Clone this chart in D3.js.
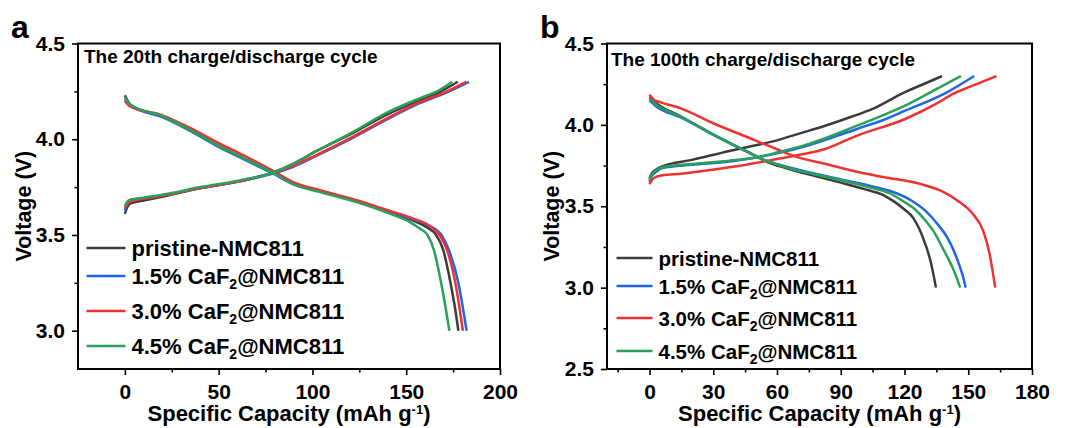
<!DOCTYPE html>
<html>
<head>
<meta charset="utf-8">
<script src="https://cdn.jsdelivr.net/npm/d3@7"></script>
<style>
  body { margin: 0; background: #fff; }
  svg { font-family: 'Liberation Sans', Arial, sans-serif; font-weight: bold; }
</style>
</head>
<body>
<svg id="chart" width="1066" height="428"></svg>
<script>
// legend labels: [text, subscript, text after]
const seriesLabels = [
  ['pristine-NMC811', '', ''],
  ['1.5% CaF', '2', '@NMC811'],
  ['3.0% CaF', '2', '@NMC811'],
  ['4.5% CaF', '2', '@NMC811']
];
const seriesColors = ['#3c3c3c', '#1f66e6', '#ee3131', '#2ba05a'];

// panel a axes
const aTicksX = [0, 50, 100, 150, 200];
const aMinorX = [25, 75, 125, 175];
const aTicksY = [3.0, 3.5, 4.0, 4.5];
const aMinorY = [3.25, 3.75, 4.25];

// panel b axes
const bTicksX = [0, 30, 60, 90, 120, 150, 180];
const bMinorX = [-15, 15, 45, 75, 105, 135, 165];
const bTicksY = [2.5, 3.0, 3.5, 4.0, 4.5];
const bMinorY = [2.75, 3.25, 3.75, 4.25];

// 20th cycle, [capacity mAh/g, voltage V]
const aPristineCharge = [[0,3.61],[1,3.64],[3,3.665],[10,3.68],[20,3.70],[40.5,3.745],[61,3.78],[77,3.82],[89.5,3.87],[101.5,3.935],[122,4.035],[140,4.13],[157.5,4.205],[167.5,4.245],[177.5,4.3]];
const aCaF15Charge = [[0,3.63],[1,3.655],[3,3.675],[10,3.69],[20,3.705],[40.5,3.745],[61,3.78],[77,3.815],[89.5,3.855],[101.5,3.91],[122,4.01],[140,4.105],[157.5,4.19],[170.5,4.24],[183.5,4.3]];
const aCaF30Charge = [[0,3.64],[1,3.655],[3,3.675],[10,3.69],[20,3.705],[40.5,3.745],[61,3.78],[77,3.82],[89.5,3.86],[101.5,3.915],[122,4.015],[140,4.11],[157.5,4.195],[170.5,4.245],[182,4.3]];
const aCaF45Charge = [[0,3.65],[1,3.67],[3,3.685],[10,3.695],[20,3.71],[40.5,3.75],[61,3.785],[77,3.82],[89.5,3.87],[101.5,3.935],[122,4.04],[140,4.14],[157.5,4.215],[167.5,4.255],[174.5,4.3]];

const aPristineDischarge = [[0,4.23],[3,4.18],[20,4.12],[34.5,4.05],[51,3.96],[63.5,3.90],[78,3.83],[91,3.765],[103.5,3.73],[124,3.675],[141.5,3.615],[152.5,3.58],[161,3.54],[166,3.5],[169.8,3.42],[173.6,3.25],[176,3.12],[177.8,3.0]];
const aCaF15Discharge = [[0,4.21],[3,4.175],[20,4.115],[34.5,4.045],[51,3.955],[63.5,3.895],[78,3.825],[91,3.76],[103.5,3.73],[124,3.675],[141.5,3.62],[152.5,3.585],[162,3.55],[168.8,3.5],[172.8,3.42],[177.8,3.25],[180.2,3.12],[182.2,3.0]];
const aCaF30Discharge = [[0,4.20],[3,4.17],[20,4.125],[34.5,4.06],[51,3.975],[63.5,3.915],[78,3.84],[91,3.77],[103.5,3.735],[124,3.68],[141.5,3.625],[152.5,3.59],[162,3.55],[167.8,3.5],[171.8,3.42],[176.2,3.25],[178.4,3.12],[180.2,3.0]];
const aCaF45Discharge = [[0,4.22],[3,4.18],[20,4.12],[34.5,4.05],[51,3.96],[63.5,3.90],[78,3.83],[91,3.76],[103.5,3.725],[124,3.67],[141.5,3.61],[151.5,3.57],[157,3.535],[161.3,3.5],[164.8,3.42],[168.6,3.25],[171,3.12],[173,3.0]];

// 100th cycle
const bPristineCharge = [[0,3.67],[1,3.70],[3,3.725],[6,3.745],[20,3.785],[37.6,3.84],[50,3.875],[60,3.905],[70,3.945],[82.7,3.995],[95,4.05],[105,4.098],[120,4.2],[128,4.245],[137.7,4.3]];
const bCaF15Charge = [[0,3.65],[1,3.685],[3,3.71],[6,3.735],[20,3.755],[37.6,3.775],[50,3.80],[60,3.825],[75,3.875],[97.7,3.975],[110,4.03],[120.3,4.087],[140,4.2],[152.8,4.3]];
const bCaF30Charge = [[0,3.635],[1,3.66],[3,3.68],[6,3.69],[15,3.70],[37.6,3.739],[60,3.79],[70,3.815],[82.7,3.852],[97.7,3.934],[120.3,4.036],[135,4.13],[142.8,4.19],[150,4.23],[163.3,4.3]];
const bCaF45Charge = [[0,3.66],[1,3.695],[3,3.72],[6,3.74],[20,3.76],[37.6,3.78],[50,3.80],[60,3.83],[75,3.883],[97.7,3.995],[110,4.06],[120.3,4.118],[135,4.22],[146.6,4.3]];

const bPristineDischarge = [[0,4.17],[3,4.135],[15,4.05],[30,3.94],[46,3.835],[55,3.775],[64,3.735],[78,3.685],[90,3.645],[104,3.595],[109,3.575],[115,3.53],[120,3.48],[124,3.43],[127,3.36],[130,3.26],[132.5,3.15],[134.8,3.0]];
const bCaF15Discharge = [[0,4.15],[3,4.115],[15,4.045],[30,3.94],[46,3.835],[55,3.78],[64,3.745],[78,3.70],[90,3.665],[104,3.625],[113,3.595],[123.4,3.534],[130,3.47],[135.6,3.39],[140,3.31],[143.2,3.227],[146,3.13],[147.5,3.07],[148.8,3.0]];
const bCaF30Discharge = [[0,4.185],[2,4.155],[5,4.14],[15,4.10],[30,4.01],[45,3.93],[60,3.85],[70,3.80],[83,3.76],[95,3.72],[110,3.68],[128,3.635],[138,3.59],[145,3.534],[152,3.455],[157,3.35],[160,3.21],[161.5,3.1],[162.7,3.0]];
const bCaF45Discharge = [[0,4.16],[3,4.125],[15,4.05],[30,3.94],[46,3.835],[55,3.78],[64,3.74],[78,3.695],[90,3.66],[104,3.615],[113,3.58],[119,3.534],[125,3.48],[130,3.41],[134,3.34],[138.6,3.227],[142,3.14],[144,3.08],[146.2,3.0]];

const panels = [
  {
    letter: 'a', letterX: 11,
    title: 'The 20th charge/discharge cycle', titleX: 84, titleY: 63,
    xDomain: [-25, 200], xRange: [78, 500],
    yDomain: [2.8, 4.5], yRange: [369, 43.5],
    xTicks: aTicksX, xMinor: aMinorX, yTicks: aTicksY, yMinor: aMinorY,
    charge: [aPristineCharge, aCaF15Charge, aCaF30Charge, aCaF45Charge],
    discharge: [aPristineDischarge, aCaF15Discharge, aCaF30Discharge, aCaF45Discharge],
    legendX: 86.5, legendLen: 39, legendFont: 22, legendRows: [248, 276, 311, 346],
    yLabelX: 31
  },
  {
    letter: 'b', letterX: 540,
    title: 'The 100th charge/discharge cycle', titleX: 611, titleY: 66,
    xDomain: [-20, 180], xRange: [607, 1032],
    yDomain: [2.5, 4.5], yRange: [369, 43.5],
    xTicks: bTicksX, xMinor: bMinorX, yTicks: bTicksY, yMinor: bMinorY,
    charge: [bPristineCharge, bCaF15Charge, bCaF30Charge, bCaF45Charge],
    discharge: [bPristineDischarge, bCaF15Discharge, bCaF30Discharge, bCaF45Discharge],
    legendX: 616.5, legendLen: 36, legendFont: 20.5, legendRows: [258, 286, 318, 351],
    yLabelX: 559
  }
];

const svg = d3.select('#chart');

function drawPanel(p) {
  const x = d3.scaleLinear().domain(p.xDomain).range(p.xRange);
  const y = d3.scaleLinear().domain(p.yDomain).range(p.yRange);
  const g = svg.append('g');

  // minor ticks
  g.append('g').
    attr('transform', `translate(0, ${p.yRange[0]})`).
    call(d3.axisBottom(x).tickValues(p.xMinor).tickSize(3.5).tickFormat('').tickSizeOuter(0)).
    call(s => s.select('.domain').remove());
  g.append('g').
    attr('transform', `translate(${p.xRange[0]}, 0)`).
    call(d3.axisLeft(y).tickValues(p.yMinor).tickSize(3.5).tickFormat('').tickSizeOuter(0)).
    call(s => s.select('.domain').remove());

  // major ticks
  const xAxis = g.append('g').
    attr('transform', `translate(0, ${p.yRange[0]})`).
    call(d3.axisBottom(x).tickValues(p.xTicks).tickSize(6).tickPadding(9).tickFormat(d3.format('d')));
  const yAxis = g.append('g').
    attr('transform', `translate(${p.xRange[0]}, 0)`).
    call(d3.axisLeft(y).tickValues(p.yTicks).tickSize(6).tickPadding(7).tickFormat(d3.format('.1f')));
  [xAxis, yAxis].forEach(a => {
    a.select('.domain').remove();
    a.selectAll('text').attr('font-size', 21).attr('font-weight', 'bold').attr('fill', '#000').
      attr('font-family', "'Liberation Sans', Arial, sans-serif");
  });
  g.selectAll('.tick line').attr('stroke', '#000').attr('stroke-width', 1.6);

  // frame
  g.append('rect').
    attr('x', p.xRange[0]).
    attr('y', p.yRange[1]).
    attr('width', p.xRange[1] - p.xRange[0]).
    attr('height', p.yRange[0] - p.yRange[1]).
    attr('fill', 'none').
    attr('stroke', '#000').
    attr('stroke-width', 2);

  // curves
  const line = d3.line().
    x(d => x(d[0])).
    y(d => y(d[1])).
    curve(d3.curveMonotoneX);
  for (let i = 0; i < seriesColors.length; i++) {
    [p.charge[i], p.discharge[i]].forEach(data => {
      g.append('path').
        datum(data).
        attr('d', line).
        attr('fill', 'none').
        attr('stroke', seriesColors[i]).
        attr('stroke-width', 2.5).
        attr('stroke-linejoin', 'round');
    });
  }

  // legend
  seriesLabels.forEach((lab, i) => {
    const ly = p.legendRows[i];
    g.append('line').
      attr('x1', p.legendX).attr('x2', p.legendX + p.legendLen).
      attr('y1', ly).attr('y2', ly).
      attr('stroke', seriesColors[i]).
      attr('stroke-width', 2.7);
    const t = g.append('text').
      attr('x', p.legendX + p.legendLen + 6).
      attr('y', ly + 7.5).
      attr('font-size', p.legendFont);
    t.append('tspan').text(lab[0]);
    if (lab[1]) {
      t.append('tspan').attr('font-size', 14).attr('dy', 5).text(lab[1]);
      t.append('tspan').attr('dy', -5).text(lab[2]);
    }
  });

  // titles
  g.append('text').
    attr('x', p.titleX).attr('y', p.titleY).
    attr('font-size', 19).
    text(p.title);

  g.append('text').
    attr('x', p.letterX).attr('y', 38).
    attr('font-size', 32).
    text(p.letter);

  const xl = g.append('text').
    attr('x', (p.xRange[0] + p.xRange[1]) / 2).
    attr('y', 421).
    attr('text-anchor', 'middle').
    attr('font-size', 22);
  xl.append('tspan').text('Specific Capacity (mAh g');
  xl.append('tspan').attr('font-size', 13).attr('dy', -7).text('-1');
  xl.append('tspan').attr('dy', 7).text(')');

  g.append('text').
    attr('transform', `translate(${p.yLabelX}, ${(p.yRange[0] + p.yRange[1]) / 2}) rotate(-90)`).
    attr('text-anchor', 'middle').
    attr('font-size', 21.5).
    text('Voltage (V)');
}

panels.forEach(drawPanel);
</script>
</body>
</html>
